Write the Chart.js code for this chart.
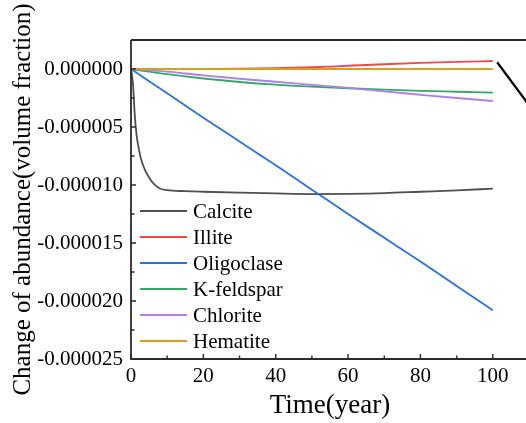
<!DOCTYPE html>
<html lang="en">
<head>
<meta charset="UTF-8">
<title>Change of abundance</title>
<style>
  html, body { margin: 0; padding: 0; background: #fff; overflow: hidden; }
  #wrap { width: 526px; height: 423px; overflow: hidden; }
  canvas { display: block; }
</style>
</head>
<body>
<div id="wrap"><canvas id="abundanceChart" width="530" height="423"></canvas></div>
<script src="https://cdn.jsdelivr.net/npm/chart.js"></script>
<script>
// calcite needs a dense early grid for the fast initial drop
const calciteYears = [0, 0.3, 0.6, 1, 1.5, 2, 2.5, 3, 4, 5, 6, 7, 8, 10, 15, 20, 30, 40, 50, 60, 70, 80, 90, 100];
const calcite = [0, -0.6e-6, -1.5e-6, -3.8e-6, -5.6e-6, -6.6e-6, -7.4e-6, -8.0e-6, -8.8e-6, -9.35e-6, -9.8e-6,
  -10.1e-6, -10.3e-6, -10.45e-6, -10.53e-6, -10.58e-6, -10.66e-6, -10.73e-6, -10.78e-6, -10.76e-6, -10.7e-6,
  -10.58e-6, -10.46e-6, -10.32e-6];

const years = [0, 10, 20, 30, 40, 50, 60, 70, 80, 90, 100];
const illite = [0, 0, 0.01e-6, 0.03e-6, 0.07e-6, 0.15e-6, 0.28e-6, 0.41e-6, 0.52e-6, 0.61e-6, 0.69e-6];
const oligoclase = [0, -2.1e-6, -4.2e-6, -6.25e-6, -8.3e-6, -10.4e-6, -12.5e-6, -14.55e-6, -16.6e-6, -18.7e-6, -20.8e-6];
const kFeldspar = [0, -0.45e-6, -0.82e-6, -1.12e-6, -1.35e-6, -1.52e-6, -1.66e-6, -1.78e-6, -1.88e-6, -1.96e-6, -2.04e-6];
const chlorite = [0, -0.22e-6, -0.55e-6, -0.84e-6, -1.1e-6, -1.37e-6, -1.62e-6, -1.93e-6, -2.22e-6, -2.5e-6, -2.76e-6];
const hematite = [0, 0, 0, 0, 0, 0, 0, 0, 0, 0, 0];

// short black stroke past the end of the series
const pointerX = [101.2, 110.5];
const pointerY = [0.58e-6, -3.33e-6];

const mineralNames = ['Calcite', 'Illite', 'Oligoclase', 'K-feldspar', 'Chlorite', 'Hematite'];
const mineralColors = ['#4f4f4f', '#f24848', '#2a70e0', '#35a867', '#b07ee8', '#d4a024'];

const xTickLabels = [0, 20, 40, 60, 80, 100];

const SERIF = "'Liberation Serif', 'Times New Roman', serif";

function pts(xs, ys) {
  return xs.map((x, i) => ({ x: x, y: ys[i] }));
}

const seriesData = [
  pts(calciteYears, calcite),
  pts(years, illite),
  pts(years, oligoclase),
  pts(years, kFeldspar),
  pts(years, chlorite),
  pts(years, hematite)
];

const datasets = mineralNames.map((name, i) => ({
  label: name,
  data: seriesData[i],
  borderColor: mineralColors[i],
  borderWidth: 1.8,
  pointRadius: 0,
  fill: false,
  cubicInterpolationMode: 'monotone',
  order: mineralNames.length - i
}));
datasets.push({
  label: '',
  data: pts(pointerX, pointerY),
  borderColor: '#000',
  borderWidth: 2.2,
  pointRadius: 0,
  fill: false,
  order: 0
});

// axis lines, top frame and inward tick marks
const frameAndTicks = {
  id: 'frameAndTicks',
  afterDatasetsDraw(chart) {
    const { ctx, chartArea: a, scales: { x, y } } = chart;
    ctx.save();
    ctx.strokeStyle = '#2b2b2b';
    ctx.lineWidth = 1.8;
    ctx.beginPath();
    ctx.moveTo(a.left, a.top);
    ctx.lineTo(a.right, a.top);
    ctx.moveTo(a.left, a.top);
    ctx.lineTo(a.left, a.bottom);
    ctx.lineTo(a.right, a.bottom);
    ctx.stroke();

    ctx.lineWidth = 1.4;
    ctx.beginPath();
    for (let v = 0; v <= 110; v += 10) {
      const px = x.getPixelForValue(v);
      const len = v % 20 === 0 ? 5 : 3.5;
      ctx.moveTo(px, a.bottom);
      ctx.lineTo(px, a.bottom - len);
    }
    for (let k = -10; k <= 1; k++) {
      const v = k * 2.5e-6;
      const py = y.getPixelForValue(v);
      const len = k % 2 === 0 ? 5 : 3.5;
      ctx.moveTo(a.left, py);
      ctx.lineTo(a.left + len, py);
    }
    ctx.stroke();
    ctx.restore();
  }
};

// legend inside the plot, lower left
const insideLegend = {
  id: 'insideLegend',
  afterDraw(chart) {
    const ctx = chart.ctx;
    ctx.save();
    ctx.font = '21px ' + SERIF;
    ctx.textBaseline = 'middle';
    ctx.fillStyle = '#000';
    mineralNames.forEach((name, i) => {
      const yy = 211 + i * 26;
      ctx.strokeStyle = mineralColors[i];
      ctx.lineWidth = 1.8;
      ctx.beginPath();
      ctx.moveTo(140, yy);
      ctx.lineTo(187, yy);
      ctx.stroke();
      ctx.fillText(name, 193, yy + 1);
    });
    ctx.restore();
  }
};

new Chart(document.getElementById('abundanceChart'), {
  type: 'line',
  data: { datasets },
  options: {
    responsive: false,
    animation: false,
    devicePixelRatio: 1,
    layout: { padding: { top: 40, right: 1, left: 0, bottom: 0 } },
    plugins: { legend: { display: false }, tooltip: { enabled: false } },
    scales: {
      x: {
        type: 'linear',
        min: 0,
        max: 110,
        grid: { display: false, drawTicks: false },
        border: { display: false },
        ticks: {
          stepSize: 20,
          padding: 5,
          color: '#000',
          maxRotation: 0,
          autoSkip: false,
          font: { family: SERIF, size: 21 }
        },
        afterBuildTicks(s) {
          s.ticks = xTickLabels.map(v => ({ value: v }));
        },
        afterFit(s) { s.height = 64; },
        title: {
          display: true,
          text: 'Time(year)',
          color: '#000',
          font: { family: SERIF, size: 27 },
          padding: { top: 0, bottom: 1 }
        }
      },
      y: {
        min: -0.000025,
        max: 0.0000025,
        grid: { display: false, drawTicks: false },
        border: { display: false },
        ticks: {
          stepSize: 0.000005,
          padding: 8,
          color: '#000',
          font: { family: SERIF, size: 21 },
          callback: v => (Math.abs(v) < 1e-12 ? 0 : v).toFixed(6)
        },
        afterBuildTicks(s) {
          s.ticks = s.ticks.filter(t => {
            const r = t.value / 5e-6;
            return Math.abs(r - Math.round(r)) < 1e-6 && t.value <= 1e-12;
          });
        },
        afterFit(s) { s.width = 131; },
        title: {
          display: true,
          text: 'Change of abundance(volume fraction)',
          color: '#000',
          font: { family: SERIF, size: 25 },
          padding: { top: 8, bottom: 0 }
        }
      }
    }
  },
  plugins: [frameAndTicks, insideLegend]
});
</script>
</body>
</html>
